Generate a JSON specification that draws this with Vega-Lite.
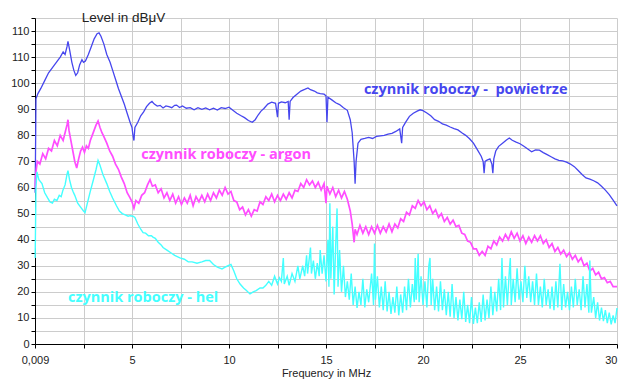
{
"$schema": "https://vega.github.io/schema/vega-lite/v6.json",
"width": 582, "height": 326,
"autosize": {"type": "none"},
"padding": {"left": 35, "top": 18, "right": 7, "bottom": 43},
"background": "white",
"config": {"view": {"stroke": null}},
"datasets": {
"powietrze": [
{"f":0.009,"v":58},{"f":0.05,"v":94},{"f":0.15,"v":96},{"f":0.3,"v":98},{"f":0.5,"v":101},{"f":0.7,"v":104},{"f":0.9,"v":106},{"f":1.1,"v":108},{"f":1.3,"v":110},{"f":1.45,"v":112},{"f":1.55,"v":111},{"f":1.65,"v":114},{"f":1.7,"v":116},{"f":1.78,"v":113},{"f":1.9,"v":108},{"f":2.0,"v":105},{"f":2.1,"v":103},{"f":2.2,"v":104},{"f":2.3,"v":107},{"f":2.42,"v":109},{"f":2.5,"v":108},{"f":2.6,"v":108.5},{"f":2.75,"v":111},{"f":2.9,"v":114},{"f":3.05,"v":117},{"f":3.2,"v":119},{"f":3.3,"v":119.3},{"f":3.4,"v":118},{"f":3.55,"v":115},{"f":3.7,"v":111},{"f":3.87,"v":108},{"f":4.0,"v":105},{"f":4.15,"v":101.5},{"f":4.3,"v":98},{"f":4.45,"v":95},{"f":4.6,"v":92},{"f":4.75,"v":88.5},{"f":4.9,"v":85},{"f":5.0,"v":83},{"f":5.05,"v":80},{"f":5.1,"v":78},{"f":5.15,"v":83},{"f":5.3,"v":85},{"f":5.45,"v":87.5},{"f":5.6,"v":89},{"f":5.75,"v":91},{"f":5.9,"v":92.3},{"f":6.03,"v":93},{"f":6.15,"v":92},{"f":6.3,"v":91.2},{"f":6.45,"v":91.5},{"f":6.6,"v":90.5},{"f":6.75,"v":91.3},{"f":6.9,"v":91},{"f":7.05,"v":90.6},{"f":7.2,"v":91.5},{"f":7.3,"v":91.6},{"f":7.45,"v":90.7},{"f":7.6,"v":91.3},{"f":7.8,"v":90.4},{"f":8.0,"v":90.6},{"f":8.2,"v":89.8},{"f":8.4,"v":90.6},{"f":8.6,"v":90},{"f":8.8,"v":90.5},{"f":9.0,"v":89.8},{"f":9.2,"v":90.4},{"f":9.4,"v":89.7},{"f":9.6,"v":90.6},{"f":9.8,"v":90.3},{"f":10.0,"v":90.8},{"f":10.2,"v":89.6},{"f":10.4,"v":88.5},{"f":10.6,"v":87.6},{"f":10.8,"v":86.8},{"f":11.0,"v":85.7},{"f":11.2,"v":85},{"f":11.35,"v":86},{"f":11.5,"v":87.8},{"f":11.65,"v":89.3},{"f":11.8,"v":90.3},{"f":12.0,"v":92},{"f":12.2,"v":92.7},{"f":12.4,"v":92.3},{"f":12.5,"v":87},{"f":12.55,"v":92.3},{"f":12.7,"v":92.8},{"f":12.9,"v":92.5},{"f":13.05,"v":93},{"f":13.1,"v":86},{"f":13.15,"v":93},{"f":13.3,"v":94.5},{"f":13.5,"v":95.8},{"f":13.7,"v":97},{"f":13.9,"v":97.6},{"f":14.07,"v":98.2},{"f":14.2,"v":97.5},{"f":14.4,"v":97},{"f":14.55,"v":96.3},{"f":14.7,"v":96},{"f":14.9,"v":95.8},{"f":15.0,"v":95.2},{"f":15.05,"v":85},{"f":15.1,"v":94.6},{"f":15.3,"v":93.6},{"f":15.5,"v":92.5},{"f":15.7,"v":91.8},{"f":15.9,"v":90.6},{"f":16.1,"v":89.6},{"f":16.25,"v":86},{"f":16.35,"v":81},{"f":16.45,"v":70},{"f":16.5,"v":61.5},{"f":16.55,"v":70},{"f":16.65,"v":77},{"f":16.8,"v":78.5},{"f":17.0,"v":78.8},{"f":17.2,"v":79.2},{"f":17.4,"v":78.8},{"f":17.6,"v":79.6},{"f":17.8,"v":79.8},{"f":18.0,"v":80},{"f":18.2,"v":80.5},{"f":18.4,"v":80.8},{"f":18.6,"v":81.5},{"f":18.8,"v":82.5},{"f":18.9,"v":77},{"f":18.95,"v":83},{"f":19.1,"v":85},{"f":19.3,"v":87.3},{"f":19.5,"v":88.5},{"f":19.7,"v":89.3},{"f":19.85,"v":89.8},{"f":20.0,"v":89.5},{"f":20.2,"v":88.6},{"f":20.4,"v":87.5},{"f":20.6,"v":86},{"f":20.8,"v":85.4},{"f":21.0,"v":84.4},{"f":21.2,"v":83.9},{"f":21.4,"v":83.2},{"f":21.6,"v":82.6},{"f":21.8,"v":82.1},{"f":22.0,"v":81},{"f":22.2,"v":80},{"f":22.4,"v":78.7},{"f":22.6,"v":77},{"f":22.8,"v":74.5},{"f":23.0,"v":72},{"f":23.1,"v":70},{"f":23.15,"v":65.5},{"f":23.2,"v":70},{"f":23.3,"v":70.5},{"f":23.45,"v":71},{"f":23.55,"v":69},{"f":23.6,"v":65.5},{"f":23.65,"v":71},{"f":23.75,"v":74},{"f":23.9,"v":75.8},{"f":24.1,"v":77},{"f":24.3,"v":78.2},{"f":24.45,"v":79},{"f":24.6,"v":78.1},{"f":24.8,"v":77.4},{"f":25.0,"v":76.8},{"f":25.2,"v":75.8},{"f":25.4,"v":74.8},{"f":25.6,"v":73.7},{"f":25.8,"v":74.4},{"f":26.0,"v":74.3},{"f":26.2,"v":73.4},{"f":26.4,"v":72.6},{"f":26.6,"v":71.8},{"f":26.8,"v":71},{"f":27.0,"v":70.4},{"f":27.2,"v":70.2},{"f":27.4,"v":69.7},{"f":27.6,"v":69},{"f":27.8,"v":68},{"f":28.0,"v":66.5},{"f":28.2,"v":65},{"f":28.4,"v":63.7},{"f":28.6,"v":63.2},{"f":28.8,"v":62.6},{"f":29.0,"v":61.8},{"f":29.2,"v":60.5},{"f":29.4,"v":59},{"f":29.6,"v":57.3},{"f":29.8,"v":55.2},{"f":30.0,"v":53}
],
"argon": [
{"f":0.009,"v":60},{"f":0.05,"v":66},{"f":0.12,"v":70},{"f":0.25,"v":69},{"f":0.4,"v":73},{"f":0.55,"v":71},{"f":0.7,"v":75},{"f":0.85,"v":74},{"f":1.0,"v":78},{"f":1.15,"v":76},{"f":1.3,"v":80},{"f":1.45,"v":78},{"f":1.55,"v":81},{"f":1.65,"v":84},{"f":1.7,"v":86},{"f":1.75,"v":82},{"f":1.85,"v":78},{"f":1.95,"v":74},{"f":2.05,"v":70},{"f":2.15,"v":67.5},{"f":2.25,"v":71},{"f":2.35,"v":74},{"f":2.45,"v":75.5},{"f":2.55,"v":73.5},{"f":2.65,"v":76},{"f":2.75,"v":75},{"f":2.85,"v":78},{"f":2.95,"v":80},{"f":3.05,"v":82},{"f":3.15,"v":84},{"f":3.25,"v":85.5},{"f":3.35,"v":83},{"f":3.45,"v":81},{"f":3.55,"v":79.5},{"f":3.7,"v":77},{"f":3.85,"v":74},{"f":4.0,"v":72},{"f":4.15,"v":69},{"f":4.3,"v":67},{"f":4.45,"v":64},{"f":4.6,"v":61.5},{"f":4.75,"v":58},{"f":4.9,"v":56},{"f":5.0,"v":54.5},{"f":5.1,"v":52},{"f":5.2,"v":55},{"f":5.35,"v":54},{"f":5.5,"v":57},{"f":5.65,"v":58},{"f":5.8,"v":61},{"f":5.93,"v":63},{"f":6.05,"v":60.5},{"f":6.2,"v":61},{"f":6.35,"v":58},{"f":6.5,"v":59.5},{"f":6.65,"v":56},{"f":6.8,"v":58},{"f":6.95,"v":55},{"f":7.1,"v":57.5},{"f":7.25,"v":54},{"f":7.4,"v":56.5},{"f":7.55,"v":53.5},{"f":7.7,"v":56},{"f":7.85,"v":54},{"f":8.0,"v":57},{"f":8.15,"v":53},{"f":8.3,"v":56.5},{"f":8.45,"v":54.5},{"f":8.6,"v":57},{"f":8.75,"v":54.5},{"f":8.9,"v":57.5},{"f":9.05,"v":55},{"f":9.2,"v":58},{"f":9.35,"v":56},{"f":9.5,"v":59},{"f":9.65,"v":57},{"f":9.8,"v":60},{"f":9.95,"v":57.5},{"f":10.1,"v":58.5},{"f":10.25,"v":55},{"f":10.4,"v":54.5},{"f":10.55,"v":51.5},{"f":10.7,"v":52.5},{"f":10.85,"v":49.5},{"f":11.0,"v":51.5},{"f":11.15,"v":49},{"f":11.3,"v":51.5},{"f":11.45,"v":51},{"f":11.6,"v":54.5},{"f":11.75,"v":53.5},{"f":11.9,"v":56.5},{"f":12.05,"v":55},{"f":12.2,"v":57.5},{"f":12.35,"v":54.5},{"f":12.5,"v":57},{"f":12.65,"v":55},{"f":12.8,"v":57.5},{"f":12.95,"v":55.5},{"f":13.1,"v":58},{"f":13.25,"v":56},{"f":13.4,"v":59},{"f":13.55,"v":58.5},{"f":13.7,"v":61.5},{"f":13.85,"v":60},{"f":14.0,"v":63},{"f":14.15,"v":61},{"f":14.3,"v":62.5},{"f":14.45,"v":60},{"f":14.6,"v":62},{"f":14.75,"v":59},{"f":14.9,"v":61.5},{"f":15.0,"v":54},{"f":15.05,"v":60.5},{"f":15.2,"v":57.5},{"f":15.35,"v":60},{"f":15.5,"v":56.5},{"f":15.65,"v":59},{"f":15.8,"v":56},{"f":15.95,"v":58.5},{"f":16.1,"v":55.5},{"f":16.25,"v":51},{"f":16.35,"v":46},{"f":16.45,"v":39},{"f":16.5,"v":44},{"f":16.6,"v":42},{"f":16.75,"v":45.5},{"f":16.9,"v":42.5},{"f":17.05,"v":45},{"f":17.2,"v":42},{"f":17.35,"v":45},{"f":17.5,"v":42.5},{"f":17.65,"v":45.5},{"f":17.8,"v":42.5},{"f":17.95,"v":45},{"f":18.1,"v":43},{"f":18.25,"v":46},{"f":18.4,"v":43},{"f":18.55,"v":46},{"f":18.7,"v":44.5},{"f":18.85,"v":48},{"f":19.0,"v":47},{"f":19.15,"v":50.5},{"f":19.3,"v":49.5},{"f":19.45,"v":53},{"f":19.6,"v":52},{"f":19.75,"v":55},{"f":19.9,"v":53},{"f":20.05,"v":54.5},{"f":20.2,"v":51.5},{"f":20.35,"v":53},{"f":20.5,"v":50},{"f":20.65,"v":51.5},{"f":20.8,"v":48.5},{"f":20.95,"v":50},{"f":21.1,"v":47},{"f":21.25,"v":48.5},{"f":21.4,"v":46},{"f":21.55,"v":47.5},{"f":21.7,"v":45},{"f":21.85,"v":45.5},{"f":22.0,"v":42.5},{"f":22.15,"v":42},{"f":22.3,"v":39.5},{"f":22.45,"v":39},{"f":22.6,"v":36.5},{"f":22.75,"v":36.5},{"f":22.9,"v":34},{"f":23.05,"v":35.5},{"f":23.2,"v":34},{"f":23.35,"v":37.5},{"f":23.5,"v":36.5},{"f":23.65,"v":39.5},{"f":23.8,"v":38},{"f":23.95,"v":41},{"f":24.1,"v":39.5},{"f":24.25,"v":42},{"f":24.4,"v":40},{"f":24.55,"v":43},{"f":24.7,"v":40.5},{"f":24.85,"v":42.5},{"f":25.0,"v":39.5},{"f":25.15,"v":41.5},{"f":25.3,"v":38.5},{"f":25.45,"v":41},{"f":25.6,"v":39},{"f":25.75,"v":41.5},{"f":25.9,"v":39.5},{"f":26.05,"v":41.5},{"f":26.2,"v":38.5},{"f":26.35,"v":40},{"f":26.5,"v":37},{"f":26.65,"v":38.5},{"f":26.8,"v":35.5},{"f":26.95,"v":37},{"f":27.1,"v":34.5},{"f":27.25,"v":36},{"f":27.4,"v":33.5},{"f":27.55,"v":35},{"f":27.7,"v":32.5},{"f":27.85,"v":34},{"f":28.0,"v":31.5},{"f":28.15,"v":33},{"f":28.3,"v":30},{"f":28.45,"v":31},{"f":28.6,"v":28},{"f":28.75,"v":29},{"f":28.9,"v":26.5},{"f":29.05,"v":27.5},{"f":29.2,"v":25},{"f":29.35,"v":25.5},{"f":29.5,"v":23.5},{"f":29.65,"v":24},{"f":29.8,"v":22},{"f":30.0,"v":22}
],
"hel": [
{"f":0.009,"v":33},{"f":0.05,"v":60},{"f":0.1,"v":66},{"f":0.2,"v":63},{"f":0.36,"v":61.5},{"f":0.5,"v":58},{"f":0.65,"v":56},{"f":0.77,"v":54.5},{"f":0.9,"v":54},{"f":1.0,"v":55.5},{"f":1.13,"v":55},{"f":1.25,"v":57},{"f":1.35,"v":56.5},{"f":1.44,"v":59},{"f":1.55,"v":61},{"f":1.65,"v":65},{"f":1.7,"v":66.5},{"f":1.78,"v":63},{"f":1.88,"v":60},{"f":1.96,"v":58.5},{"f":2.05,"v":57},{"f":2.2,"v":54},{"f":2.35,"v":52.5},{"f":2.5,"v":51},{"f":2.58,"v":50.4},{"f":2.7,"v":54},{"f":2.85,"v":58.5},{"f":3.0,"v":62.7},{"f":3.15,"v":67},{"f":3.25,"v":70.4},{"f":3.35,"v":68.5},{"f":3.5,"v":65},{"f":3.7,"v":61.5},{"f":3.85,"v":58.5},{"f":4.0,"v":56},{"f":4.2,"v":53},{"f":4.35,"v":51},{"f":4.5,"v":50},{"f":4.65,"v":49.5},{"f":4.8,"v":49},{"f":4.9,"v":49.2},{"f":5.05,"v":49},{"f":5.15,"v":48.5},{"f":5.3,"v":46},{"f":5.45,"v":44},{"f":5.57,"v":42.7},{"f":5.7,"v":42.5},{"f":5.85,"v":41.5},{"f":6.0,"v":41.5},{"f":6.08,"v":41},{"f":6.2,"v":40.5},{"f":6.35,"v":39},{"f":6.5,"v":38},{"f":6.6,"v":37},{"f":6.8,"v":36},{"f":7.0,"v":35},{"f":7.2,"v":34},{"f":7.47,"v":33},{"f":7.7,"v":32.5},{"f":7.9,"v":31.5},{"f":8.1,"v":31.5},{"f":8.35,"v":31},{"f":8.6,"v":31.5},{"f":8.8,"v":32},{"f":9.0,"v":32},{"f":9.2,"v":30.5},{"f":9.4,"v":29.5},{"f":9.64,"v":28.8},{"f":9.8,"v":29.5},{"f":9.95,"v":30},{"f":10.1,"v":30.5},{"f":10.25,"v":28},{"f":10.4,"v":25},{"f":10.57,"v":23},{"f":10.75,"v":21.5},{"f":10.9,"v":20.5},{"f":11.08,"v":19.2},{"f":11.25,"v":20},{"f":11.4,"v":20.5},{"f":11.6,"v":21.5},{"f":11.75,"v":21.5},{"f":11.9,"v":22.5},{"f":12.05,"v":24},{"f":12.2,"v":22.5},{"f":12.35,"v":26},{"f":12.5,"v":23},{"f":12.6,"v":25.4},{"f":12.7,"v":24},{"f":12.8,"v":33},{"f":12.85,"v":23},{"f":13.0,"v":26},{"f":13.1,"v":22.5},{"f":13.25,"v":27},{"f":13.4,"v":24},{"f":13.55,"v":30},{"f":13.65,"v":25},{"f":13.8,"v":30},{"f":13.9,"v":26},{"f":14.0,"v":34},{"f":14.05,"v":27},{"f":14.2,"v":37},{"f":14.25,"v":27},{"f":14.35,"v":32},{"f":14.45,"v":25},{"f":14.55,"v":31},{"f":14.65,"v":26},{"f":14.7,"v":36},{"f":14.8,"v":27},{"f":14.9,"v":34},{"f":15.0,"v":24},{"f":15.1,"v":40},{"f":15.15,"v":22},{"f":15.2,"v":54},{"f":15.25,"v":25},{"f":15.35,"v":45},{"f":15.42,"v":19},{"f":15.5,"v":38},{"f":15.57,"v":52},{"f":15.62,"v":22},{"f":15.7,"v":36},{"f":15.8,"v":20},{"f":15.9,"v":30},{"f":16.0,"v":18},{"f":16.1,"v":24},{"f":16.2,"v":17},{"f":16.3,"v":27},{"f":16.4,"v":15},{"f":16.5,"v":22},{"f":16.6,"v":13.8},{"f":16.7,"v":20},{"f":16.8,"v":15},{"f":16.9,"v":25},{"f":17.0,"v":14},{"f":17.1,"v":21},{"f":17.2,"v":16},{"f":17.35,"v":27},{"f":17.45,"v":15},{"f":17.5,"v":38.5},{"f":17.55,"v":17},{"f":17.65,"v":26},{"f":17.75,"v":14},{"f":17.85,"v":22},{"f":17.95,"v":13},{"f":18.05,"v":24},{"f":18.15,"v":12.5},{"f":18.25,"v":20},{"f":18.35,"v":11.5},{"f":18.45,"v":18},{"f":18.55,"v":12},{"f":18.65,"v":22},{"f":18.75,"v":11},{"f":18.85,"v":19},{"f":18.95,"v":12},{"f":19.05,"v":22},{"f":19.15,"v":13},{"f":19.25,"v":25},{"f":19.35,"v":14},{"f":19.45,"v":23},{"f":19.55,"v":16},{"f":19.6,"v":33},{"f":19.65,"v":17},{"f":19.75,"v":34.6},{"f":19.8,"v":16},{"f":19.9,"v":26},{"f":20.0,"v":15},{"f":20.1,"v":24},{"f":20.2,"v":14},{"f":20.3,"v":30},{"f":20.36,"v":33},{"f":20.42,"v":15},{"f":20.5,"v":25},{"f":20.6,"v":13},{"f":20.7,"v":22},{"f":20.8,"v":12.5},{"f":20.9,"v":24},{"f":21.0,"v":13},{"f":21.1,"v":21},{"f":21.2,"v":11},{"f":21.3,"v":20},{"f":21.4,"v":10.5},{"f":21.5,"v":23},{"f":21.6,"v":10},{"f":21.7,"v":18},{"f":21.8,"v":9},{"f":21.9,"v":17},{"f":22.0,"v":9.5},{"f":22.1,"v":20},{"f":22.2,"v":8.5},{"f":22.3,"v":15},{"f":22.4,"v":8},{"f":22.5,"v":18},{"f":22.6,"v":7.7},{"f":22.7,"v":14},{"f":22.8,"v":8},{"f":22.9,"v":16},{"f":23.0,"v":8.5},{"f":23.1,"v":19},{"f":23.2,"v":9},{"f":23.3,"v":17},{"f":23.4,"v":10},{"f":23.5,"v":22},{"f":23.6,"v":11},{"f":23.7,"v":20},{"f":23.8,"v":12.5},{"f":23.9,"v":25},{"f":24.0,"v":13},{"f":24.07,"v":33},{"f":24.15,"v":14},{"f":24.25,"v":26},{"f":24.35,"v":15},{"f":24.45,"v":28},{"f":24.5,"v":33},{"f":24.55,"v":15},{"f":24.65,"v":25},{"f":24.75,"v":16},{"f":24.85,"v":29},{"f":24.95,"v":17},{"f":25.05,"v":24},{"f":25.15,"v":16},{"f":25.25,"v":30},{"f":25.35,"v":17.7},{"f":25.45,"v":26},{"f":25.55,"v":16},{"f":25.65,"v":24},{"f":25.75,"v":15},{"f":25.85,"v":27},{"f":25.95,"v":15},{"f":26.05,"v":22},{"f":26.15,"v":14},{"f":26.25,"v":25},{"f":26.35,"v":15},{"f":26.45,"v":21},{"f":26.55,"v":13.5},{"f":26.65,"v":22},{"f":26.75,"v":13},{"f":26.85,"v":24},{"f":26.95,"v":14},{"f":27.06,"v":30.8},{"f":27.15,"v":13},{"f":27.25,"v":23},{"f":27.35,"v":14},{"f":27.45,"v":20},{"f":27.55,"v":13},{"f":27.65,"v":22},{"f":27.75,"v":14},{"f":27.85,"v":25},{"f":27.95,"v":15},{"f":28.05,"v":21},{"f":28.15,"v":13},{"f":28.25,"v":26},{"f":28.35,"v":14},{"f":28.45,"v":23},{"f":28.55,"v":12},{"f":28.6,"v":32},{"f":28.68,"v":12},{"f":28.8,"v":18},{"f":28.9,"v":10},{"f":29.0,"v":16},{"f":29.1,"v":9},{"f":29.2,"v":14},{"f":29.3,"v":8.8},{"f":29.4,"v":13},{"f":29.5,"v":8},{"f":29.6,"v":12},{"f":29.7,"v":7.5},{"f":29.8,"v":11},{"f":29.9,"v":8},{"f":30.0,"v":13.8}
],
"labels": [
{"f":22.2,"v":97.5,"t":"czynnik roboczy - \u00a0powietrze","c":"p"},
{"f":9.85,"v":72.6,"t":"czynnik roboczy - argon","c":"a"},
{"f":5.57,"v":17.6,"t":"czynnik roboczy - hel","c":"h"}
]
},
"encoding": {
"x": {"field": "f", "type": "quantitative",
  "scale": {"domain": [0, 30], "nice": false, "zero": false},
  "axis": {"values": [0,2.5,5,7.5,10,12.5,15,17.5,20,22.5,25,27.5,30],
    "labelExpr": "datum.value == 0 ? '0,009' : (datum.value % 5 == 0 ? datum.label : '')",
    "labelFlush": false,
    "labelAlign": {"expr": "datum.value == 30 ? 'right' : 'center'"},
    "labelOverlap": false,
    "title": "Frequency in MHz", "titleFont": "Liberation Sans", "titleFontSize": 11, "titleFontWeight": "normal", "titleColor": "#222", "titlePadding": 2,
    "labelFont": "Liberation Sans", "labelFontSize": 11, "labelColor": "#222", "labelPadding": 6,
    "tickColor": "#000", "tickSize": 4, "domainColor": "#000",
    "grid": true, "gridColor": "#cccccc", "gridWidth": 1}},
"y": {"field": "v", "type": "quantitative",
  "scale": {"domain": [0, 125], "nice": false},
  "axis": {"values": [0,5,10,15,20,25,30,35,40,45,50,55,60,65,70,75,80,85,90,95,100,105,110,115,120,125],
    "labelExpr": "datum.value == 120 ? '110' : (datum.value % 10 == 0 ? datum.label : '')",
    "labelOverlap": false,
    "title": "Level in dBμV", "titleAngle": 0, "titleAlign": "center", "titleBaseline": "middle", "titleX": 88, "titleY": -1,
    "titleFont": "Liberation Sans", "titleFontSize": 13.5, "titleFontWeight": "normal", "titleColor": "#222",
    "labelFont": "Liberation Sans", "labelFontSize": 11, "labelColor": "#222", "labelPadding": 2,
    "tickColor": "#000", "tickSize": 4, "domainColor": "#000",
    "grid": true, "gridColor": "#cccccc", "gridWidth": 1}}
},
"layer": [
{"data": {"name": "powietrze"}, "mark": {"type": "line", "color": "#4646EE", "strokeWidth": 1.3}},
{"data": {"name": "argon"}, "mark": {"type": "line", "color": "#FF4DFF", "strokeWidth": 1.7}},
{"data": {"name": "hel"}, "mark": {"type": "line", "color": "#44FFFF", "strokeWidth": 1.4}},
{"data": {"name": "labels"}, "mark": {"type": "text", "font": "Open Sans", "fontWeight": "bold", "fontSize": 14.5, "align": "center", "baseline": "middle"},
 "encoding": {"text": {"field": "t"},
   "color": {"field": "c", "type": "nominal", "scale": {"domain": ["p","a","h"], "range": ["#4646EE","#FF4DFF","#44FFFF"]}, "legend": null}}}
]
}
